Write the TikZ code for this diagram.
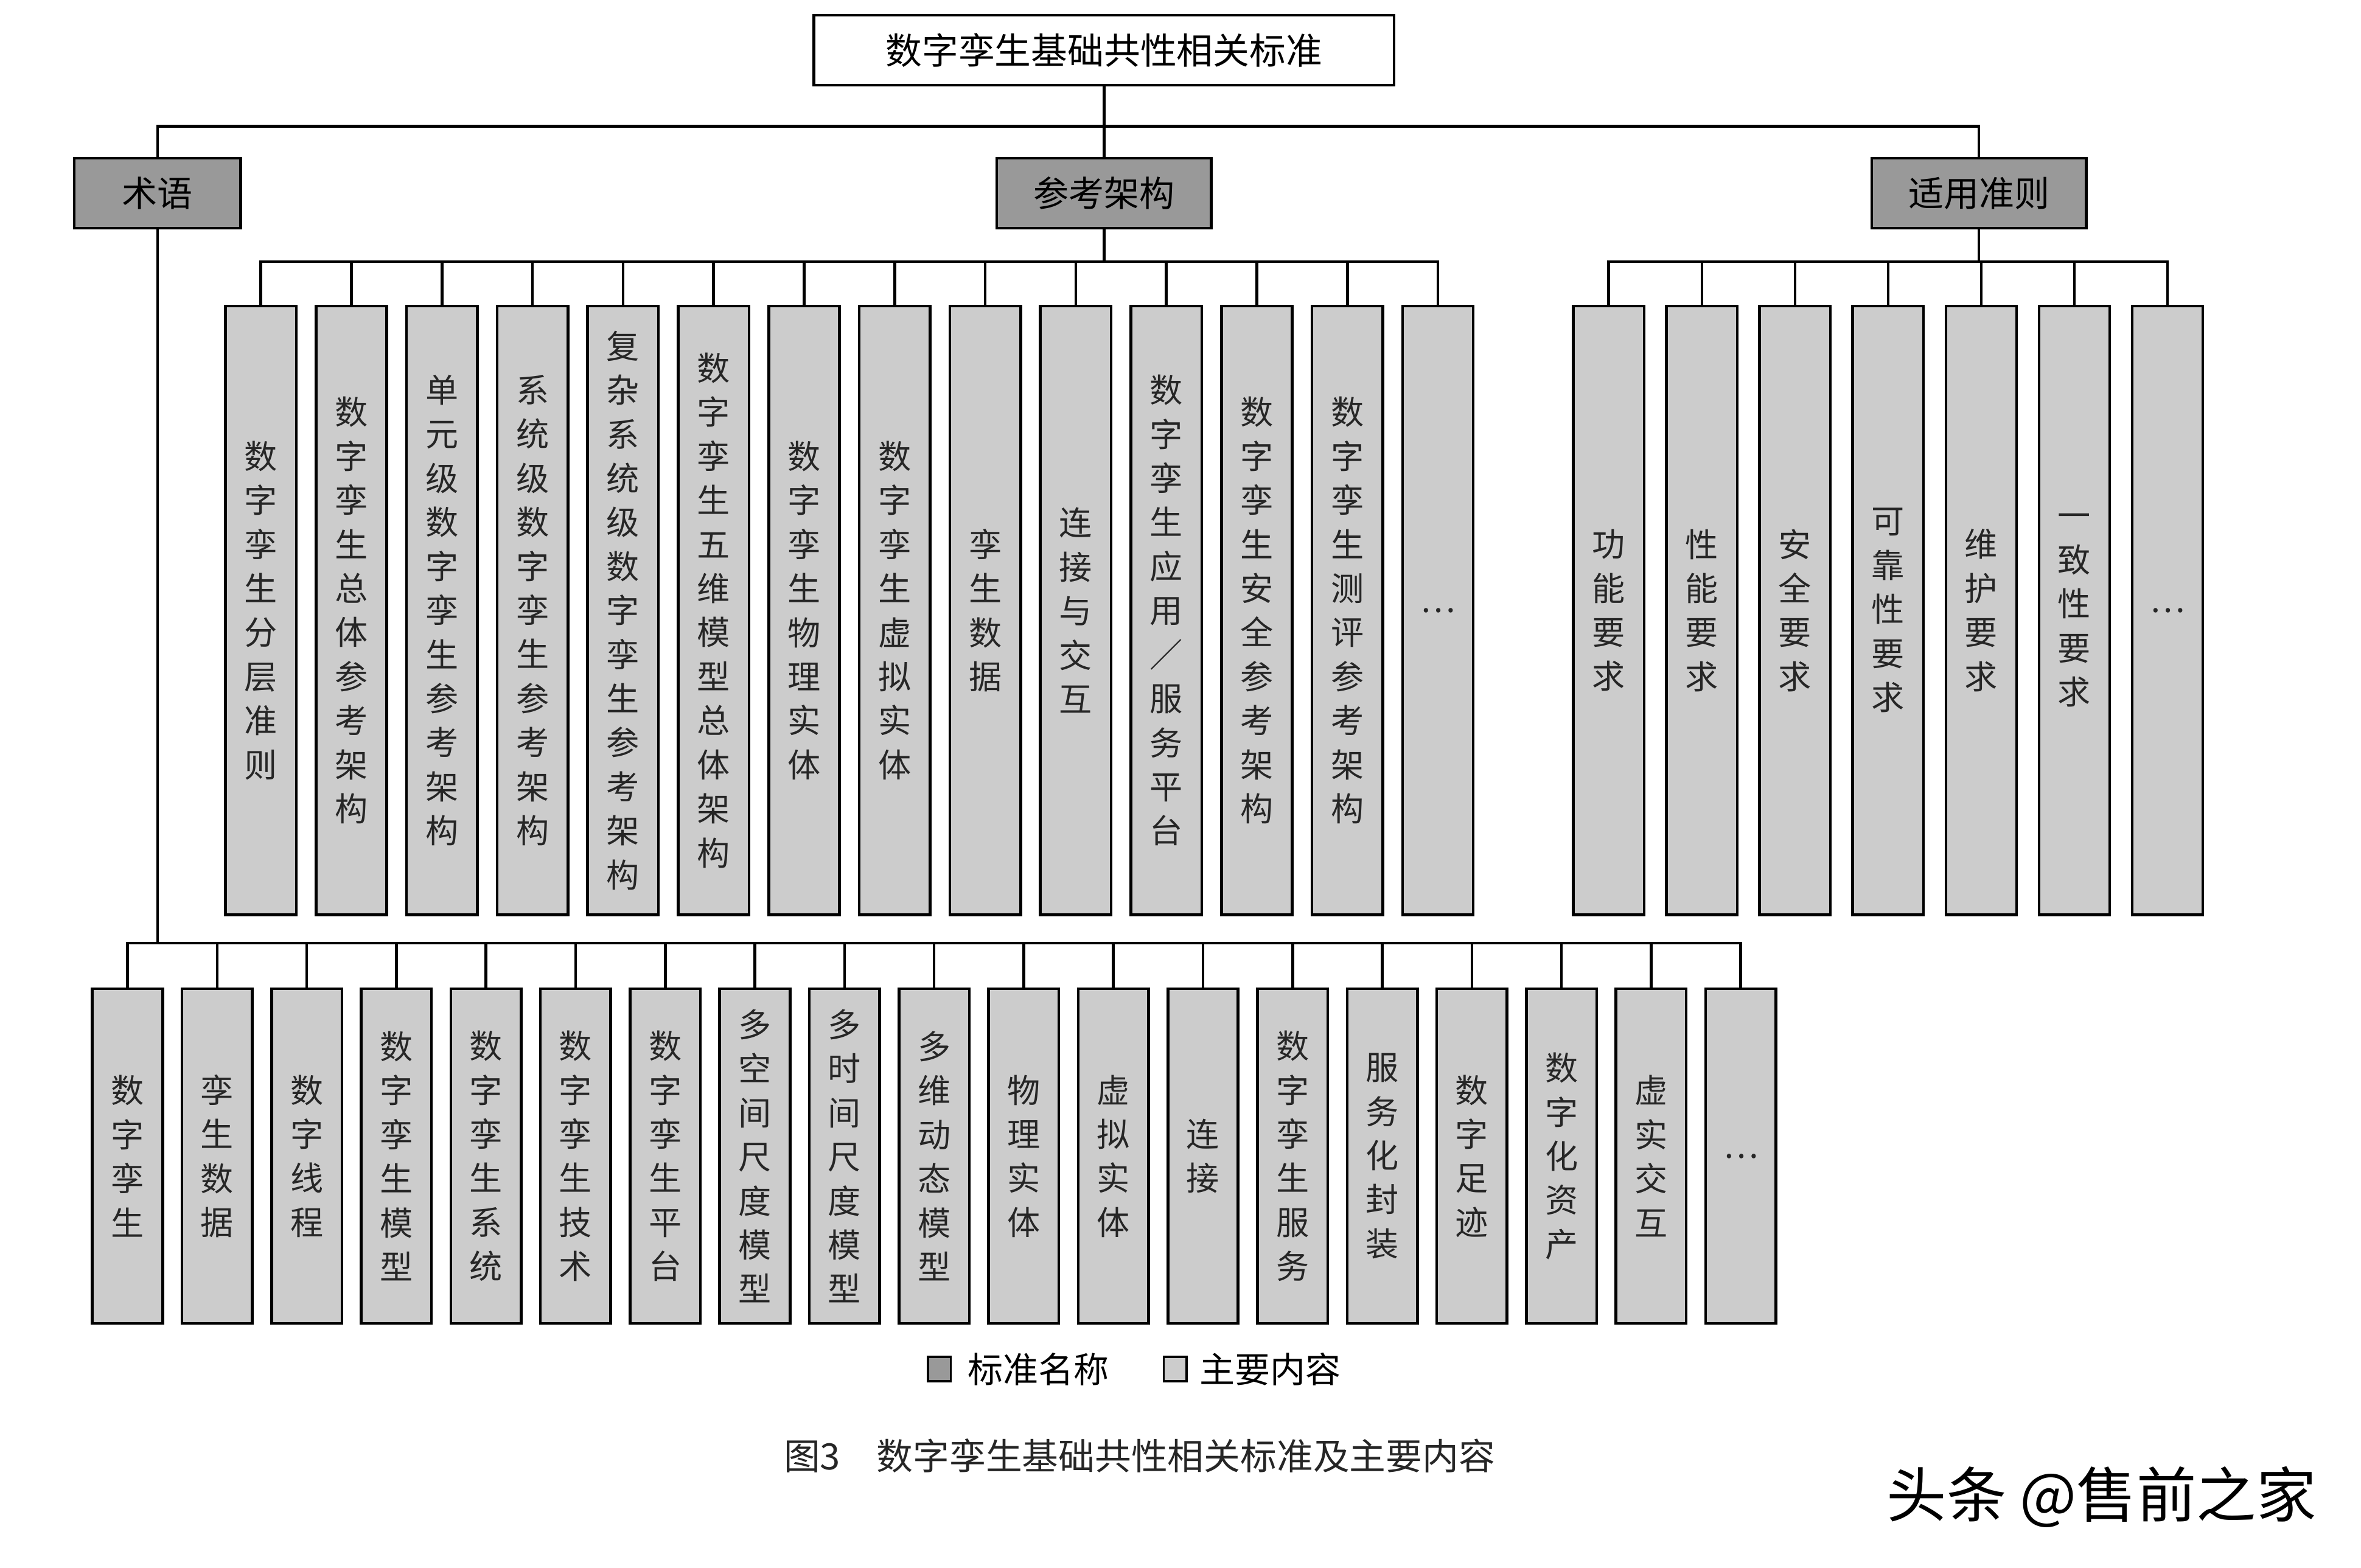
\documentclass[tikz,border=0pt]{standalone}
\usepackage{fontspec}
\setmainfont{Noto Sans CJK SC}
\usetikzlibrary{positioning}
\definecolor{catgray}{gray}{0.6}
\definecolor{colgray}{gray}{0.8}

\begin{document}
\begin{tikzpicture}[x=0.025cm,y=-0.025cm,line width=1.3pt,
    bus/.style={to path={(\tikztostart) |- ([yshift=#1]\tikztotarget) -- (\tikztotarget)}},
    topbox/.style={rectangle,draw,fill=white,minimum width=9.535cm,minimum height=1.15cm,inner sep=0pt,font=\fontsize{17}{20}\selectfont},
    catbox/.style={rectangle,draw,fill=catgray,minimum height=1.15cm,inner sep=0pt,font=\fontsize{16.5}{20}\selectfont},
    archcol/.style={rectangle,draw,fill=colgray,minimum width=1.1625cm,minimum height=10cm,inner sep=0pt,align=center,text=black!85,font=\fontsize{15.4}{20.6}\selectfont,node distance=1.4875cm},
    rulecol/.style={archcol,node distance=1.53cm},
    termcol/.style={archcol,minimum width=1.155cm,minimum height=5.5cm,node distance=1.4725cm},
    keybox/.style={rectangle,draw,minimum width=0.375cm,minimum height=0.4cm,inner sep=0pt,line width=1.1pt}]

    \useasboundingbox (0,0) rectangle (1552,1030.4);

    \node[topbox] (root) at (725.7,33) {数字孪生基础共性相关标准};

    \node[catbox,minimum width=3.525cm] (arch) [below of=root, node distance=2.35cm] {参考架构};
    \node[catbox,minimum width=2.735cm] (term) [left of=arch, node distance=15.55cm] {术语};
    \node[catbox,minimum width=3.525cm] (rule) [right of=arch, node distance=14.375cm] {适用准则};

    % reference architecture
    \node[archcol] (a1) at (171.5,401.25) {数\\字\\孪\\生\\分\\层\\准\\则};
    \node[archcol] (a2) [right of=a1] {数\\字\\孪\\生\\总\\体\\参\\考\\架\\构};
    \node[archcol] (a3) [right of=a2] {单\\元\\级\\数\\字\\孪\\生\\参\\考\\架\\构};
    \node[archcol] (a4) [right of=a3] {系\\统\\级\\数\\字\\孪\\生\\参\\考\\架\\构};
    \node[archcol] (a5) [right of=a4] {复\\杂\\系\\统\\级\\数\\字\\孪\\生\\参\\考\\架\\构};
    \node[archcol] (a6) [right of=a5] {数\\字\\孪\\生\\五\\维\\模\\型\\总\\体\\架\\构};
    \node[archcol] (a7) [right of=a6] {数\\字\\孪\\生\\物\\理\\实\\体};
    \node[archcol] (a8) [right of=a7] {数\\字\\孪\\生\\虚\\拟\\实\\体};
    \node[archcol] (a9) [right of=a8] {孪\\生\\数\\据};
    \node[archcol] (a10) [right of=a9] {连\\接\\与\\交\\互};
    \node[archcol] (a11) [right of=a10] {数\\字\\孪\\生\\应\\用\\／\\服\\务\\平\\台};
    \node[archcol] (a12) [right of=a11] {数\\字\\孪\\生\\安\\全\\参\\考\\架\\构};
    \node[archcol] (a13) [right of=a12] {数\\字\\孪\\生\\测\\评\\参\\考\\架\\构};
    \node[archcol] (a14) [right of=a13] {…};

    % applicable rules
    \node[rulecol] (q1) at (1057.5,401.25) {功\\能\\要\\求};
    \node[rulecol] (q2) [right of=q1] {性\\能\\要\\求};
    \node[rulecol] (q3) [right of=q2] {安\\全\\要\\求};
    \node[rulecol] (q4) [right of=q3] {可\\靠\\性\\要\\求};
    \node[rulecol] (q5) [right of=q4] {维\\护\\要\\求};
    \node[rulecol] (q6) [right of=q5] {一\\致\\性\\要\\求};
    \node[rulecol] (q7) [right of=q6] {…};

    % terms
    \node[termcol] (t1) at (83.8,760) {数\\字\\孪\\生};
    \node[termcol] (t2) [right of=t1] {孪\\生\\数\\据};
    \node[termcol] (t3) [right of=t2] {数\\字\\线\\程};
    \node[termcol] (t4) [right of=t3] {数\\字\\孪\\生\\模\\型};
    \node[termcol] (t5) [right of=t4] {数\\字\\孪\\生\\系\\统};
    \node[termcol] (t6) [right of=t5] {数\\字\\孪\\生\\技\\术};
    \node[termcol] (t7) [right of=t6] {数\\字\\孪\\生\\平\\台};
    \node[termcol] (t8) [right of=t7] {多\\空\\间\\尺\\度\\模\\型};
    \node[termcol] (t9) [right of=t8] {多\\时\\间\\尺\\度\\模\\型};
    \node[termcol] (t10) [right of=t9] {多\\维\\动\\态\\模\\型};
    \node[termcol] (t11) [right of=t10] {物\\理\\实\\体};
    \node[termcol] (t12) [right of=t11] {虚\\拟\\实\\体};
    \node[termcol] (t13) [right of=t12] {连\\接};
    \node[termcol] (t14) [right of=t13] {数\\字\\孪\\生\\服\\务};
    \node[termcol] (t15) [right of=t14] {服\\务\\化\\封\\装};
    \node[termcol] (t16) [right of=t15] {数\\字\\足\\迹};
    \node[termcol] (t17) [right of=t16] {数\\字\\化\\资\\产};
    \node[termcol] (t18) [right of=t17] {虚\\实\\交\\互};
    \node[termcol] (t19) [right of=t18] {…};

    % legend and caption
    \node[keybox,fill=catgray] (k1) at (617.5,900) {};
    \node[inner sep=0pt,font=\fontsize{16.5}{20}\selectfont,right=0.24cm of k1] (k1t) {标准名称};
    \node[keybox,fill=colgray] (k2) at (772.5,900) {};
    \node[inner sep=0pt,font=\fontsize{16.5}{20}\selectfont,right=0.17cm of k2] (k2t) {主要内容};
    \node[text=black!85,font=\fontsize{17}{20}\selectfont] (cap) at (749,957) {图3\hspace{1em}数字孪生基础共性相关标准及主要内容};
    \node[font=\fontsize{28}{30}\selectfont] (mark) at (1381.5,984) {头条 @售前之家};

    \path
        (root.south) edge[bus=0.5cm] (term.north)
        (root.south) edge[bus=0.5cm] (arch.north)
        (root.south) edge[bus=0.5cm] (rule.north)

        (arch.south) edge[bus=0.705cm] (a1.north)
        (arch.south) edge[bus=0.705cm] (a2.north)
        (arch.south) edge[bus=0.705cm] (a3.north)
        (arch.south) edge[bus=0.705cm] (a4.north)
        (arch.south) edge[bus=0.705cm] (a5.north)
        (arch.south) edge[bus=0.705cm] (a6.north)
        (arch.south) edge[bus=0.705cm] (a7.north)
        (arch.south) edge[bus=0.705cm] (a8.north)
        (arch.south) edge[bus=0.705cm] (a9.north)
        (arch.south) edge[bus=0.705cm] (a10.north)
        (arch.south) edge[bus=0.705cm] (a11.north)
        (arch.south) edge[bus=0.705cm] (a12.north)
        (arch.south) edge[bus=0.705cm] (a13.north)
        (arch.south) edge[bus=0.705cm] (a14.north)

        (rule.south) edge[bus=0.705cm] (q1.north)
        (rule.south) edge[bus=0.705cm] (q2.north)
        (rule.south) edge[bus=0.705cm] (q3.north)
        (rule.south) edge[bus=0.705cm] (q4.north)
        (rule.south) edge[bus=0.705cm] (q5.north)
        (rule.south) edge[bus=0.705cm] (q6.north)
        (rule.south) edge[bus=0.705cm] (q7.north)

        (term.south) edge[bus=0.725cm] (t1.north)
        (term.south) edge[bus=0.725cm] (t2.north)
        (term.south) edge[bus=0.725cm] (t3.north)
        (term.south) edge[bus=0.725cm] (t4.north)
        (term.south) edge[bus=0.725cm] (t5.north)
        (term.south) edge[bus=0.725cm] (t6.north)
        (term.south) edge[bus=0.725cm] (t7.north)
        (term.south) edge[bus=0.725cm] (t8.north)
        (term.south) edge[bus=0.725cm] (t9.north)
        (term.south) edge[bus=0.725cm] (t10.north)
        (term.south) edge[bus=0.725cm] (t11.north)
        (term.south) edge[bus=0.725cm] (t12.north)
        (term.south) edge[bus=0.725cm] (t13.north)
        (term.south) edge[bus=0.725cm] (t14.north)
        (term.south) edge[bus=0.725cm] (t15.north)
        (term.south) edge[bus=0.725cm] (t16.north)
        (term.south) edge[bus=0.725cm] (t17.north)
        (term.south) edge[bus=0.725cm] (t18.north)
        (term.south) edge[bus=0.725cm] (t19.north)
        ;
\end{tikzpicture}
\end{document}
